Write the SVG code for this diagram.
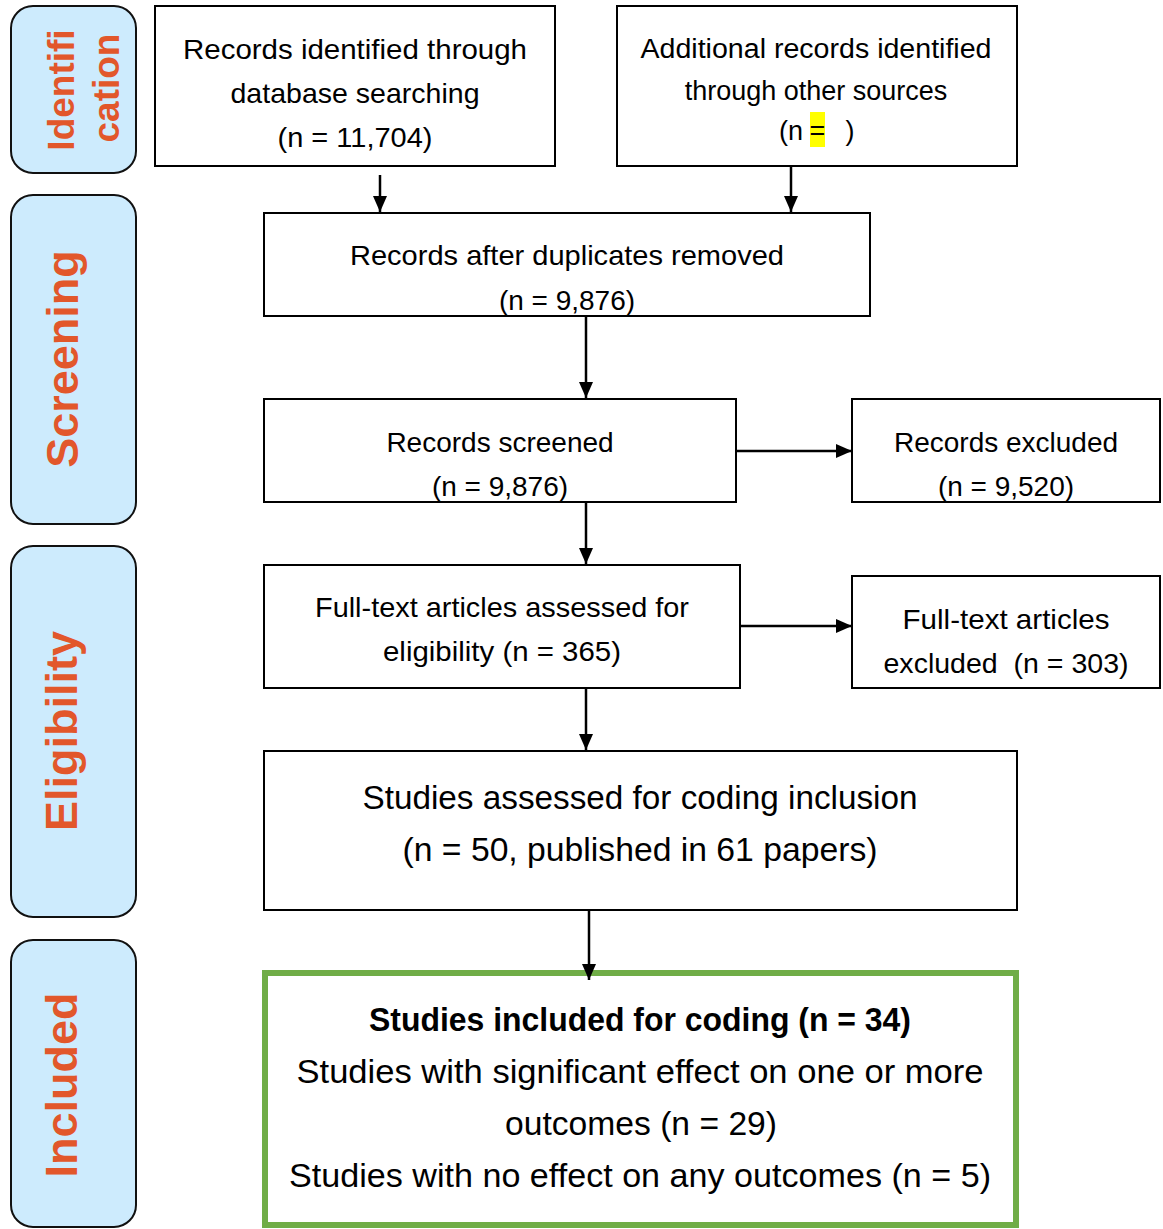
<svg xmlns="http://www.w3.org/2000/svg" width="1163" height="1229" viewBox="0 0 1163 1229">
<style>
.stage{fill:#cdebfd;stroke:#111;stroke-width:2}
.stxt{font-family:"Liberation Sans",Arial,sans-serif;font-weight:bold;fill:#e2572b;text-anchor:middle}
.box{fill:#fff;stroke:#000;stroke-width:2}
.t{font-family:"Liberation Sans",Arial,sans-serif;fill:#000;text-anchor:middle;dominant-baseline:central}
.conn line{stroke:#000;stroke-width:2.5}
</style>
<defs>
<marker id="ah" viewBox="0 0 16 14" refX="16" refY="7" markerWidth="16" markerHeight="14" markerUnits="userSpaceOnUse" orient="auto">
<path d="M0,0 L16,7 L0,14 Z" fill="#000"/>
</marker>
</defs>
<rect width="1163" height="1229" fill="#fff"/>
<g id="stage-identification">
<rect class="stage" x="11" y="6" width="125" height="167" rx="22"/>
<text class="stxt" font-size="37" transform="translate(74,90) rotate(-90)">Identifi</text>
<text class="stxt" font-size="37" transform="translate(119,88) rotate(-90)">cation</text>
</g>
<g id="stage-screening">
<rect class="stage" x="11" y="195" width="125" height="329" rx="22"/>
<text class="stxt" font-size="45" transform="translate(78,359) rotate(-90)">Screening</text>
</g>
<g id="stage-eligibility">
<rect class="stage" x="11" y="546" width="125" height="371" rx="22"/>
<text class="stxt" font-size="45" transform="translate(77,731) rotate(-90)">Eligibility</text>
</g>
<g id="stage-included">
<rect class="stage" x="11" y="940" width="125" height="287" rx="22"/>
<text class="stxt" font-size="45" transform="translate(77,1085) rotate(-90)">Included</text>
</g>
<g id="n-database">
<rect class="box" x="155" y="6" width="400" height="160"/>
<text class="t" font-size="28" x="355" y="49" textLength="344" lengthAdjust="spacingAndGlyphs">Records identified through</text>
<text class="t" font-size="28" x="355" y="93" textLength="249" lengthAdjust="spacingAndGlyphs">database searching</text>
<text class="t" font-size="28" x="355" y="137" textLength="155" lengthAdjust="spacingAndGlyphs">(n = 11,704)</text>
</g>
<g id="n-other">
<rect class="box" x="617" y="6" width="400" height="160"/>
<rect x="810" y="112" width="15" height="35" fill="#ffff00"/>
<text class="t" font-size="27" x="816" y="49" textLength="351" lengthAdjust="spacingAndGlyphs">Additional records identified</text>
<text class="t" font-size="27" x="816" y="91">through other sources</text>
<text class="t" font-size="27" x="791" y="131">(n</text>
<text class="t" font-size="27" x="817.5" y="131">=</text>
<text class="t" font-size="27" x="850" y="131">)</text>
</g>
<g id="n-duplicates">
<rect class="box" x="264" y="213" width="606" height="103"/>
<text class="t" font-size="28" x="567" y="255" textLength="434" lengthAdjust="spacingAndGlyphs">Records after duplicates removed</text>
<text class="t" font-size="28" x="567" y="300">(n = 9,876)</text>
</g>
<g id="n-screened">
<rect class="box" x="264" y="399" width="472" height="103"/>
<text class="t" font-size="28" x="500" y="442">Records screened</text>
<text class="t" font-size="28" x="500" y="486">(n = 9,876)</text>
</g>
<g id="n-excluded">
<rect class="box" x="852" y="399" width="308" height="103"/>
<text class="t" font-size="28" x="1006" y="442">Records excluded</text>
<text class="t" font-size="28" x="1006" y="486">(n = 9,520)</text>
</g>
<g id="n-fulltext">
<rect class="box" x="264" y="565" width="476" height="123"/>
<text class="t" font-size="28" x="502" y="607" textLength="374" lengthAdjust="spacingAndGlyphs">Full-text articles assessed for</text>
<text class="t" font-size="28" x="502" y="651" textLength="238" lengthAdjust="spacingAndGlyphs">eligibility (n = 365)</text>
</g>
<g id="n-ftexcluded">
<rect class="box" x="852" y="576" width="308" height="112"/>
<text class="t" font-size="28" x="1006" y="619" textLength="207" lengthAdjust="spacingAndGlyphs">Full-text articles</text>
<text class="t" font-size="28" x="1006" y="663" textLength="245" lengthAdjust="spacingAndGlyphs" xml:space="preserve">excluded  (n = 303)</text>
</g>
<g id="n-coding">
<rect class="box" x="264" y="751" width="753" height="159"/>
<text class="t" font-size="33" x="640" y="797" textLength="555" lengthAdjust="spacingAndGlyphs">Studies assessed for coding inclusion</text>
<text class="t" font-size="33" x="640" y="849" textLength="475" lengthAdjust="spacingAndGlyphs">(n = 50, published in 61 papers)</text>
</g>
<g id="n-included">
<rect x="265" y="973" width="751" height="252" fill="#fff" stroke="#70ad47" stroke-width="6"/>
<text class="t" font-size="33" font-weight="bold" x="640" y="1019" textLength="542" lengthAdjust="spacingAndGlyphs">Studies included for coding (n = 34)</text>
<text class="t" font-size="34" x="640" y="1071" textLength="687" lengthAdjust="spacingAndGlyphs">Studies with significant effect on one or more</text>
<text class="t" font-size="34" x="641" y="1123" textLength="272" lengthAdjust="spacingAndGlyphs">outcomes (n = 29)</text>
<text class="t" font-size="34" x="640" y="1175" textLength="702" lengthAdjust="spacingAndGlyphs">Studies with no effect on any outcomes (n = 5)</text>
</g>
<g id="connectors" class="conn">
<line x1="380" y1="175" x2="380" y2="212" marker-end="url(#ah)"/>
<line x1="791" y1="166" x2="791" y2="212" marker-end="url(#ah)"/>
<line x1="586" y1="316" x2="586" y2="398" marker-end="url(#ah)"/>
<line x1="736" y1="451" x2="852" y2="451" marker-end="url(#ah)"/>
<line x1="586" y1="502" x2="586" y2="564" marker-end="url(#ah)"/>
<line x1="740" y1="626" x2="852" y2="626" marker-end="url(#ah)"/>
<line x1="586" y1="688" x2="586" y2="750" marker-end="url(#ah)"/>
<line x1="589" y1="910" x2="589" y2="980" marker-end="url(#ah)"/>
</g>
</svg>
